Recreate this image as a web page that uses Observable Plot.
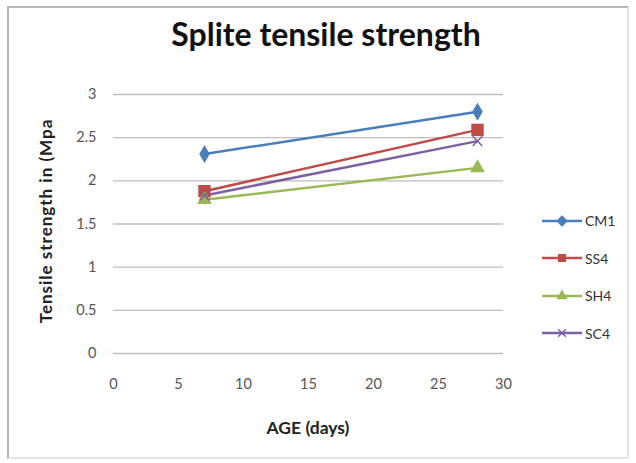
<!DOCTYPE html>
<html>
<head>
<meta charset="utf-8">
<script src="https://cdn.jsdelivr.net/npm/d3@7"></script>
<script src="https://cdn.jsdelivr.net/npm/@observablehq/plot@0.6"></script>
<style>
  html, body { margin: 0; padding: 0; background: #fff; }
  #wrap { position: relative; width: 636px; height: 463px; overflow: hidden; font-family: Lato, "Open Sans", sans-serif; }
  #frame { position: absolute; left: 7px; top: 6px; width: 622px; height: 453px; border: 2px solid #b4b4b4; border-right-color: #e4e4e4; border-bottom-color: #e4e4e4; box-sizing: border-box; }
  #title { position: absolute; left: 326px; top: 14px; transform: translateX(-50%); white-space: nowrap; font-size: 32px; font-weight: bold; color: #111; }
  #xlabel { position: absolute; left: 308px; top: 417px; transform: translateX(-50%); white-space: nowrap; font-size: 17.5px; font-weight: bold; color: #222; }
  #ylabel { position: absolute; left: 45px; top: 221px; transform: translate(-50%, -50%) rotate(-90deg); white-space: nowrap; font-size: 17px; letter-spacing: 1px; font-weight: bold; color: #222; }
  #legend { position: absolute; left: 540px; top: 202px; }
  .item { display: flex; align-items: center; height: 37.5px; font-size: 14px; color: #333; }
  .item svg { margin-right: 1px; }
  #chart { position: absolute; left: 0; top: 0; }
</style>
</head>
<body>
<div id="wrap">
  <div id="chart"></div>
  <div id="frame"></div>
  <div id="title">Splite tensile strength</div>
  <div id="xlabel">AGE (days)</div>
  <div id="ylabel">Tensile strength in (Mpa</div>
  <div id="legend"></div>
</div>
<script>
const ages = [7, 28];
const seriesNames = ["CM1", "SS4", "SH4", "SC4"];
const CM1 = [2.31, 2.80];
const SS4 = [1.88, 2.59];
const SH4 = [1.78, 2.15];
const SC4 = [1.83, 2.46];
const colors = ["#4a7ebb", "#be4b48", "#98b954", "#7d60a0"];
const symbols = ["diamond", "square", "triangle", "times"];
const xTicks = [0, 5, 10, 15, 20, 25, 30];
const yTicks = [0, 0.5, 1, 1.5, 2, 2.5, 3];

const valuesBySeries = {CM1, SS4, SH4, SC4};
const data = seriesNames.flatMap(s => ages.map((a, i) => ({series: s, age: a, value: valuesBySeries[s][i]})));

const colorScale = {domain: seriesNames, range: colors};
const symbolScale = {domain: seriesNames, range: symbols};
const markerR = {CM1: 5.5, SS4: 7, SH4: 5.5};

const chart = Plot.plot({
  width: 636,
  height: 463,
  marginLeft: 113,
  marginRight: 133,
  marginTop: 94,
  marginBottom: 110,
  style: {fontFamily: "Lato, 'Open Sans', sans-serif", fontSize: "15px", color: "#555", background: "transparent"},
  x: {domain: [0, 30], ticks: xTicks, tickSize: 0, tickPadding: 27, label: null},
  y: {domain: [0, 3], ticks: yTicks, tickSize: 0, tickPadding: 18, label: null, tickFormat: d => String(d)},
  color: colorScale,
  symbol: symbolScale,
  r: {type: "identity"},
  marks: [
    Plot.ruleY(yTicks, {stroke: "#bdbdbd", strokeWidth: 1.3}),
    Plot.axisX({ticks: xTicks, tickSize: 0, tickPadding: 25, label: null, fill: "#555", fontSize: 14.5}),
    Plot.axisY({ticks: yTicks, tickSize: 0, tickPadding: 17, label: null, fill: "#555", fontSize: 14.5, tickFormat: d => String(d)}),
    Plot.line(data, {x: "age", y: "value", z: "series", stroke: "series", strokeWidth: 2.5}),
    Plot.dot(data.filter(d => d.series !== "SC4"), {x: "age", y: "value", symbol: "series", fill: "series", r: d => markerR[d.series]}),
    Plot.dot(data.filter(d => d.series === "SC4"), {x: "age", y: "value", symbol: "series", stroke: "series", r: 4.5, strokeWidth: 1.5})
  ]
});
document.getElementById("chart").appendChild(chart);

const legend = document.getElementById("legend");
seriesNames.forEach((s, i) => {
  const item = document.createElement("div");
  item.className = "item";
  const sym = d3.symbol(
    {diamond: d3.symbolDiamond2, square: d3.symbolSquare2, triangle: d3.symbolTriangle2, times: d3.symbolTimes}[symbols[i]],
    i === 3 ? 40 : 55
  )();
  const filled = i !== 3;
  item.innerHTML = `<svg width="44" height="14"><line x1="2" x2="42" y1="7" y2="7" stroke="${colors[i]}" stroke-width="2.5"/><path d="${sym}" transform="translate(22,7)" fill="${filled ? colors[i] : "none"}" stroke="${colors[i]}" stroke-width="1.5"/></svg><span>${s}</span>`;
  legend.appendChild(item);
});
</script>
</body>
</html>
